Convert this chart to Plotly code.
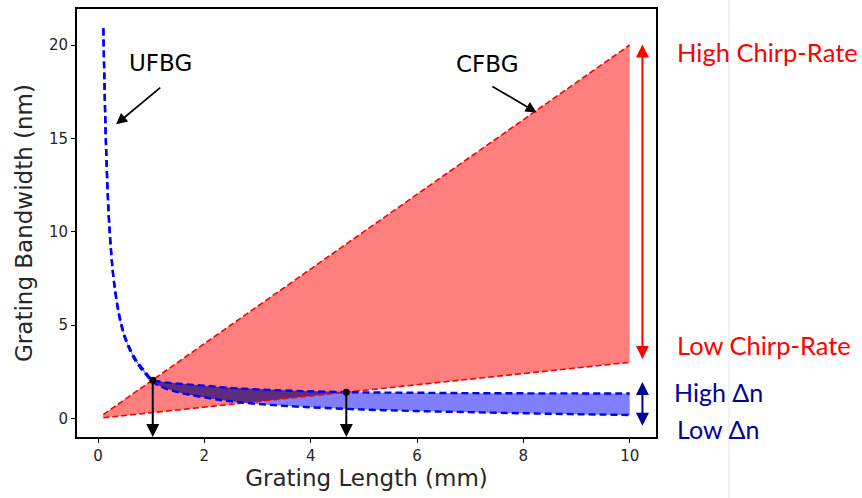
import numpy as np
import plotly.graph_objects as go

# ---- data ----
blue_x  = [0.1, 0.12, 0.15, 0.2, 0.25, 0.3, 0.4, 0.5, 0.6, 0.7, 0.8, 0.9, 1.0, 1.1, 1.25, 1.5, 2.0, 2.5, 3.0, 3.5, 4.0, 5.0, 6.0, 7.0, 8.0, 9.0, 10.0]
high_dn = [20.9, 18.2, 14.7, 11.0, 8.8, 7.35, 5.55, 4.45, 3.75, 3.2, 2.8, 2.45, 2.12, 2.0, 1.93, 1.86, 1.75, 1.63, 1.55, 1.49, 1.45, 1.39, 1.37, 1.35, 1.34, 1.335, 1.33]
low_dn  = [20.9, 18.2, 14.7, 11.0, 8.8, 7.3, 5.45, 4.35, 3.65, 3.1, 2.7, 2.35, 2.03, 1.82, 1.62, 1.40, 1.12, 0.91, 0.77, 0.67, 0.59, 0.47, 0.39, 0.33, 0.27, 0.22, 0.18]

red_x    = [0.1, 10.0]
red_high = [0.2, 20.0]
red_low  = [0.03, 3.0]

cross_x = [1.03, 4.67]
cross_y = [2.04, 1.40]

x_ticks = [0, 2, 4, 6, 8, 10]
y_ticks = [0, 5, 10, 15, 20]

RED_FILL = "rgba(255,0,0,0.5)"
BLUE_FILL = "rgba(0,0,255,0.5)"
PURPLE = "rgb(94,44,126)"
DARKBLUE = "rgb(0,0,150)"
FONT = "DejaVu Sans"

fig = go.Figure()

# red band
fig.add_trace(go.Scatter(x=red_x, y=red_low, mode="lines", line=dict(width=0), hoverinfo="skip", showlegend=False))
fig.add_trace(go.Scatter(x=red_x, y=red_high, mode="lines", line=dict(width=0), fill="tonexty",
                         fillcolor=RED_FILL, hoverinfo="skip", showlegend=False))
# blue band
fig.add_trace(go.Scatter(x=blue_x, y=low_dn, mode="lines", line=dict(width=0, shape="spline"), hoverinfo="skip", showlegend=False))
fig.add_trace(go.Scatter(x=blue_x, y=high_dn, mode="lines", line=dict(width=0, shape="spline"), fill="tonexty",
                         fillcolor=BLUE_FILL, hoverinfo="skip", showlegend=False))

# overlap region (blue band inside red band)
xs = np.linspace(min(blue_x), max(blue_x), 3000)
ub = np.interp(xs, blue_x, high_dn)
lb = np.interp(xs, blue_x, low_dn)
ur = np.interp(xs, red_x, red_high)
lr = np.interp(xs, red_x, red_low)
top = np.minimum(ub, ur)
bot = np.maximum(lb, lr)
m = top > bot
px = np.concatenate([xs[m], xs[m][::-1]])
py = np.concatenate([top[m], bot[m][::-1]])
fig.add_trace(go.Scatter(x=px, y=py, mode="lines", fill="toself", fillcolor=PURPLE,
                         line=dict(width=0), hoverinfo="skip", showlegend=False))

# dashed edges
for yy in (red_high, red_low):
    fig.add_trace(go.Scatter(x=red_x, y=yy, mode="lines",
                             line=dict(color="red", width=1.6, dash="6px,3px"), showlegend=False))
for yy in (high_dn, low_dn):
    fig.add_trace(go.Scatter(x=blue_x, y=yy, mode="lines",
                             line=dict(color="blue", width=2.4, dash="7px,4px", shape="spline"), showlegend=False))

# crossing dots
fig.add_trace(go.Scatter(x=cross_x, y=cross_y, mode="markers",
                         marker=dict(color="black", size=7), showlegend=False))

ann = []
for cx, cy in zip(cross_x, cross_y):
    ann.append(dict(x=cx, y=-1.0, ax=cx, ay=cy, xref="x", yref="y", axref="x", ayref="y",
                    text="", showarrow=True, arrowhead=2, arrowsize=1.3, arrowwidth=2, arrowcolor="black"))
# double arrows
ann.append(dict(x=10.24, y=20.03, ax=10.24, ay=3.1, xref="x", yref="y", axref="x", ayref="y",
                text="", showarrow=True, arrowhead=2, startarrowhead=2, arrowside="end+start",
                arrowsize=1.3, startarrowsize=1.3, arrowwidth=2, arrowcolor="red"))
ann.append(dict(x=10.24, y=1.95, ax=10.24, ay=-0.48, xref="x", yref="y", axref="x", ayref="y",
                text="", showarrow=True, arrowhead=2, startarrowhead=2, arrowside="end+start",
                arrowsize=1.3, startarrowsize=1.3, arrowwidth=2, arrowcolor=DARKBLUE))
# UFBG / CFBG pointers
ann.append(dict(x=0.34, y=15.75, ax=1.2, ay=17.78, xref="x", yref="y", axref="x", ayref="y",
                text="", showarrow=True, arrowhead=2, arrowsize=1.3, arrowwidth=1.7, arrowcolor="black"))
ann.append(dict(x=8.25, y=16.39, ax=7.39, ay=17.83, xref="x", yref="y", axref="x", ayref="y",
                text="", showarrow=True, arrowhead=2, arrowsize=1.3, arrowwidth=1.7, arrowcolor="black"))
ann.append(dict(x=1.17, y=19.03, xref="x", yref="y", text="UFBG", showarrow=False,
                font=dict(family=FONT, size=23, color="black")))
ann.append(dict(x=7.33, y=19.0, xref="x", yref="y", text="CFBG", showarrow=False,
                font=dict(family=FONT, size=23, color="black")))

# side labels
side_font = "Lato"
ann.append(dict(x=1.0330, y=0.90, xref="paper", yref="paper", xanchor="left", yanchor="middle",
                text="High Chirp-Rate", showarrow=False, font=dict(family=side_font, size=25.5, color="red")))
ann.append(dict(x=1.0330, y=0.214, xref="paper", yref="paper", xanchor="left", yanchor="middle",
                text="Low Chirp-Rate", showarrow=False, font=dict(family=side_font, size=25.5, color="red")))
ann.append(dict(x=1.0280, y=0.1047, xref="paper", yref="paper", xanchor="left", yanchor="middle",
                text="High Δn", showarrow=False, font=dict(family=side_font, size=25, color="rgb(0,0,160)")))
ann.append(dict(x=1.0330, y=0.0186, xref="paper", yref="paper", xanchor="left", yanchor="middle",
                text="Low Δn", showarrow=False, font=dict(family=side_font, size=25, color="rgb(0,0,160)")))

fig.update_layout(
    width=862, height=498,
    margin=dict(l=77, r=206, t=7, b=61),
    plot_bgcolor="white", paper_bgcolor="white",
    annotations=ann,
    shapes=[dict(type="line", xref="paper", yref="paper", x0=1.126, x1=1.126, y0=-0.2, y1=1.1,
                 line=dict(color="#e6e6e6", width=1))],
    xaxis=dict(range=[-0.395, 10.495], tickvals=x_ticks, showgrid=False, zeroline=False,
               showline=True, mirror=True, linecolor="black", linewidth=1.8,
               ticks="outside", ticklen=4, tickwidth=1, tickcolor="black",
               tickfont=dict(family=FONT, size=15, color="#262626"),
               title=dict(text="Grating Length (mm)", standoff=6,
                          font=dict(family=FONT, size=23, color="#262626"))),
    yaxis=dict(range=[-1.0, 21.93], tickvals=y_ticks, showgrid=False, zeroline=False,
               showline=True, mirror=True, linecolor="black", linewidth=1.8,
               ticks="outside", ticklen=4, tickwidth=1, tickcolor="black",
               tickfont=dict(family=FONT, size=15, color="#262626"),
               title=dict(text="Grating Bandwidth (nm)", standoff=10,
                          font=dict(family=FONT, size=23, color="#262626"))),
)

fig.write_html("out.html")
